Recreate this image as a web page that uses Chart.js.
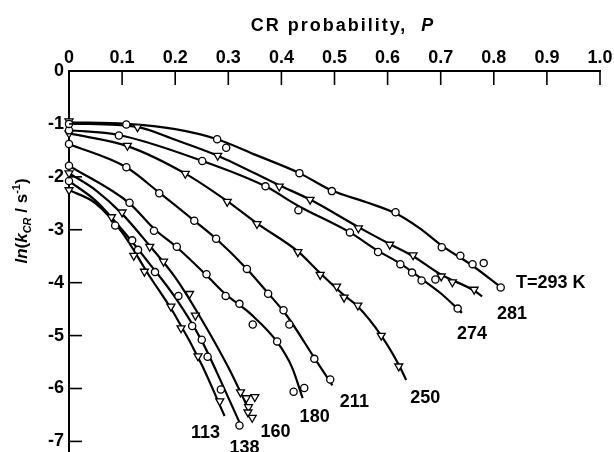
<!DOCTYPE html>
<html>
<head>
<meta charset="utf-8">
<script src="https://cdn.jsdelivr.net/npm/chart.js@4.4.0/dist/chart.umd.min.js"></script>
<style>
  html, body { margin: 0; padding: 0; background: #fff; }
  #wrap { width: 614px; height: 452px; }
</style>
</head>
<body>
<div id="wrap"><canvas id="crChart" width="614" height="452"></canvas></div>
<script>
// temperatures (K), one curve + one set of measured points per temperature
const temps = [293, 281, 274, 250, 211, 180, 160, 138, 113];
const labelText = ['T=293 K', '281', '274', '250', '211', '180', '160', '138', '113'];
const xTickLabels = ['0', '0.1', '0.2', '0.3', '0.4', '0.5', '0.6', '0.7', '0.8', '0.9', '1.0'];
const yTickValues = [0, -1, -2, -3, -4, -5, -6, -7];

// [P, ln k] along the drawn curves
const curve293 = [[0,-0.97],[0.108,-1.0],[0.2,-1.1],[0.279,-1.29],[0.35,-1.58],[0.434,-1.93],[0.495,-2.26],[0.56,-2.48],[0.615,-2.69],[0.66,-2.97],[0.702,-3.3],[0.76,-3.68],[0.815,-4.1]];
const curve281 = [[0,-0.99],[0.129,-1.06],[0.2,-1.3],[0.28,-1.6],[0.396,-2.16],[0.454,-2.43],[0.545,-2.95],[0.604,-3.27],[0.648,-3.5],[0.701,-3.85],[0.763,-4.15],[0.778,-4.26]];
const curve274 = [[0,-1.12],[0.094,-1.21],[0.251,-1.7],[0.37,-2.18],[0.432,-2.55],[0.529,-3.05],[0.582,-3.4],[0.624,-3.64],[0.664,-3.93],[0.7,-4.2],[0.74,-4.57]];
const curve250 = [[0,-1.18],[0.11,-1.42],[0.219,-1.94],[0.298,-2.46],[0.354,-2.88],[0.431,-3.41],[0.473,-3.82],[0.518,-4.24],[0.544,-4.45],[0.588,-5.0],[0.621,-5.55],[0.635,-5.84]];
const curve211 = [[0,-1.38],[0.108,-1.82],[0.17,-2.3],[0.236,-2.83],[0.277,-3.17],[0.335,-3.74],[0.375,-4.2],[0.41,-4.62],[0.462,-5.42],[0.496,-5.94]];
const curve180 = [[0,-1.79],[0.114,-2.5],[0.16,-2.98],[0.203,-3.33],[0.259,-3.86],[0.295,-4.22],[0.321,-4.42],[0.343,-4.6],[0.392,-5.12],[0.42,-5.6],[0.44,-6.18]];
const curve160 = [[0,-1.93],[0.05,-2.25],[0.1,-2.7],[0.15,-3.28],[0.2,-3.9],[0.25,-4.7],[0.3,-5.6],[0.34,-6.43]];
const curve138 = [[0,-2.08],[0.05,-2.45],[0.1,-3.0],[0.15,-3.62],[0.2,-4.28],[0.25,-5.1],[0.29,-5.95],[0.321,-6.64]];
const curve113 = [[0,-2.25],[0.05,-2.5],[0.1,-3.05],[0.15,-3.85],[0.2,-4.62],[0.25,-5.55],[0.293,-6.52]];

// [P, ln k] measured points
const pts293 = [[0,-1.0],[0.108,-1.01],[0.279,-1.29],[0.296,-1.45],[0.434,-1.93],[0.495,-2.27],[0.615,-2.67],[0.702,-3.33],[0.737,-3.49],[0.76,-3.65],[0.781,-3.63],[0.813,-4.09]];
const pts281 = [[0,-0.95],[0.129,-1.06],[0.28,-1.6],[0.396,-2.18],[0.454,-2.43],[0.545,-2.97],[0.604,-3.28],[0.648,-3.48],[0.701,-3.88],[0.722,-3.99],[0.763,-4.13]];
const pts274 = [[0,-1.12],[0.094,-1.22],[0.251,-1.7],[0.37,-2.18],[0.432,-2.63],[0.529,-3.05],[0.582,-3.42],[0.624,-3.65],[0.646,-3.81],[0.664,-3.96],[0.69,-3.94],[0.732,-4.49]];
const pts250 = [[0,-1.18],[0.11,-1.41],[0.219,-1.94],[0.298,-2.47],[0.354,-2.89],[0.431,-3.42],[0.473,-3.85],[0.504,-4.07],[0.518,-4.28],[0.544,-4.43],[0.588,-5.0],[0.621,-5.58]];
const pts211 = [[0,-1.38],[0.108,-1.82],[0.17,-2.31],[0.236,-2.83],[0.277,-3.17],[0.335,-3.74],[0.375,-4.21],[0.404,-4.52],[0.415,-4.79],[0.462,-5.44],[0.492,-5.83]];
const pts180 = [[0,-1.79],[0.114,-2.49],[0.16,-3.02],[0.203,-3.32],[0.259,-3.84],[0.295,-4.25],[0.321,-4.4],[0.346,-4.79],[0.392,-5.11],[0.423,-6.06],[0.443,-5.99]];
const pts160 = [[0,-1.93],[0.1,-2.67],[0.152,-3.32],[0.178,-3.6],[0.227,-4.21],[0.238,-4.62],[0.323,-6.07],[0.334,-6.18],[0.35,-6.16],[0.338,-6.35],[0.337,-6.45],[0.345,-6.55]];
const pts138 = [[0,-2.08],[0.087,-2.92],[0.119,-3.2],[0.13,-3.38],[0.162,-3.8],[0.206,-4.25],[0.232,-4.82],[0.25,-5.08],[0.261,-5.4],[0.286,-6.02],[0.321,-6.7]];
const pts113 = [[0,-2.25],[0.08,-2.76],[0.122,-3.49],[0.142,-3.79],[0.192,-4.45],[0.211,-4.86],[0.243,-5.39],[0.284,-6.24]];

const curves = [curve293, curve281, curve274, curve250, curve211, curve180, curve160, curve138, curve113];
const points = [pts293, pts281, pts274, pts250, pts211, pts180, pts160, pts138, pts113];

// styling
const markerShape = ['circle', 'triangle', 'circle', 'triangle', 'circle', 'circle', 'triangle', 'circle', 'triangle'];
const labelOffset = [[49, -5], [30, 18], [10, 21], [19, 18], [22, 17], [12, 19], [26, 21], [5, 26], [-19, 17]];
const FONT = '"Liberation Sans", Arial, Helvetica, sans-serif';

const toXY = arr => arr.map(([p, v]) => ({ x: p, y: v }));

const datasets = [];
temps.forEach((t, i) => {
    datasets.push({
        label: t + ' K pts',
        data: toXY(points[i]),
        showLine: false,
        pointStyle: markerShape[i],
        pointRotation: markerShape[i] === 'triangle' ? 180 : 0,
        pointRadius: markerShape[i] === 'triangle' ? 4.6 : 3.6,
        pointBackgroundColor: '#fff',
        pointBorderColor: '#000',
        pointBorderWidth: 1.3,
        clip: false,
        order: 0
    });
    datasets.push({
        label: t + ' K',
        data: toXY(curves[i]),
        showLine: true,
        borderColor: '#000',
        borderWidth: 2.2,
        pointRadius: 0,
        cubicInterpolationMode: 'monotone',
        fill: false,
        order: 1
    });
});

function drawPieces(ctx, pieces, x, y, align) {
    let total = 0;
    pieces.forEach(p => { ctx.font = p.font; total += ctx.measureText(p.t).width; });
    let cx = align === 'center' ? x - total / 2 : x;
    pieces.forEach(p => {
        ctx.font = p.font;
        ctx.fillText(p.t, cx, y + (p.dy || 0));
        cx += ctx.measureText(p.t).width;
    });
}

const decorations = {
    id: 'decorations',
    afterDraw(chart) {
        const { ctx, chartArea } = chart;
        const xs = chart.scales.x, ys = chart.scales.y;
        ctx.save();
        ctx.strokeStyle = '#000';
        ctx.fillStyle = '#000';
        ctx.lineWidth = 1.6;
        // inward tick marks
        xs.ticks.forEach(t => {
            const px = xs.getPixelForValue(t.value);
            ctx.beginPath(); ctx.moveTo(px, chartArea.top); ctx.lineTo(px, chartArea.top + 14); ctx.stroke();
        });
        ys.ticks.forEach(t => {
            const py = ys.getPixelForValue(t.value);
            ctx.beginPath(); ctx.moveTo(chartArea.left, py); ctx.lineTo(chartArea.left + 13, py); ctx.stroke();
        });

        // top axis title
        ctx.textBaseline = 'alphabetic';
        ctx.letterSpacing = '2px';
        drawPieces(ctx, [
            { t: 'CR probability,  ', font: 'bold 18px ' + FONT },
            { t: 'P', font: 'italic bold 18px ' + FONT }
        ], 343, 31, 'center');
        ctx.letterSpacing = '0px';

        // left axis title (rotated)
        ctx.save();
        ctx.translate(27, 221);
        ctx.rotate(-Math.PI / 2);
        drawPieces(ctx, [
            { t: 'ln', font: 'italic bold 17px ' + FONT },
            { t: '(', font: 'bold 17px ' + FONT },
            { t: 'k', font: 'italic bold 17px ' + FONT },
            { t: 'CR', font: 'italic bold 11px ' + FONT, dy: 4 },
            { t: ' / s', font: 'bold 17px ' + FONT },
            { t: '-1', font: 'bold 11px ' + FONT, dy: -7 },
            { t: ')', font: 'bold 17px ' + FONT }
        ], 0, 0, 'center');
        ctx.restore();

        // temperature labels at curve ends
        ctx.font = 'bold 18px ' + FONT;
        ctx.textAlign = 'center';
        ctx.textBaseline = 'middle';
        curves.forEach((c, i) => {
            const end = c[c.length - 1];
            const px = xs.getPixelForValue(end[0]) + labelOffset[i][0];
            const py = ys.getPixelForValue(end[1]) + labelOffset[i][1];
            ctx.fillText(labelText[i], px, py);
        });
        ctx.restore();
    }
};

const ctx = document.getElementById('crChart').getContext('2d');
const crChart = new Chart(ctx, {
    type: 'scatter',
    data: { datasets: datasets },
    options: {
        responsive: false,
        animation: false,
        layout: { autoPadding: false, padding: { left: 0, right: 14, top: 0, bottom: 0 } },
        plugins: { legend: { display: false }, tooltip: { enabled: false } },
        scales: {
            x: {
                type: 'linear',
                position: 'top',
                min: 0,
                max: 1,
                afterBuildTicks: scale => {
                    scale.ticks = xTickLabels.map(s => ({ value: parseFloat(s) }));
                },
                afterFit: scale => {
                    scale.height = 71;
                    scale.paddingLeft = 0;
                    scale.paddingRight = 0;
                },
                ticks: {
                    autoSkip: false,
                    maxRotation: 0,
                    padding: 2,
                    color: '#000',
                    font: { family: FONT, size: 18, weight: 'bold' },
                    callback: (v, i) => xTickLabels[i]
                },
                grid: { display: false, drawTicks: false },
                border: { display: true, color: '#000', width: 2 }
            },
            y: {
                type: 'linear',
                min: -7.2,
                max: 0,
                afterBuildTicks: scale => {
                    scale.ticks = yTickValues.map(v => ({ value: v }));
                },
                afterFit: scale => {
                    scale.width = 69;
                    scale.paddingTop = 0;
                    scale.paddingBottom = 0;
                },
                ticks: {
                    padding: 5,
                    color: '#000',
                    font: { family: FONT, size: 18, weight: 'bold' },
                    callback: v => String(v)
                },
                grid: { display: false, drawTicks: false },
                border: { display: true, color: '#000', width: 2 }
            }
        }
    },
    plugins: [decorations]
});
</script>
</body>
</html>
